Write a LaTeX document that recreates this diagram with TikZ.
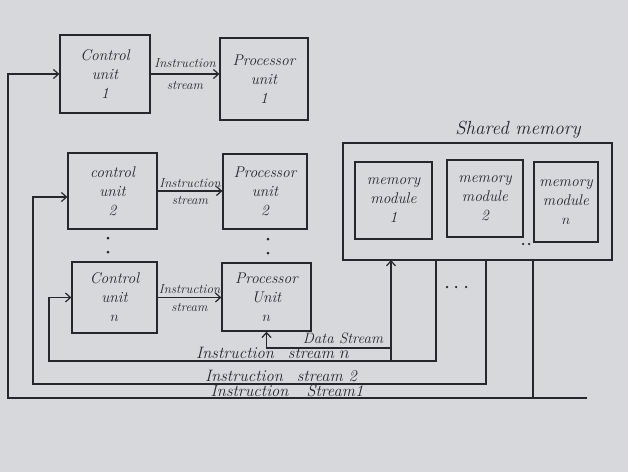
\documentclass[tikz,border=0pt]{standalone}
\usetikzlibrary{arrows.meta}
\definecolor{paper}{RGB}{214,216,220}
\definecolor{ink}{RGB}{38,38,44}
\newcommand\handA{\itshape\fontsize{13}{17}\selectfont}
\newcommand\handC{\itshape\fontsize{15.5}{19}\selectfont}
\newcommand\handB{\itshape\fontsize{16.5}{18}\selectfont}
\begin{document}
\begin{tikzpicture}[x=1pt,y=-1pt,
  rect/.style 2 args={draw=ink, line width=1.3pt, minimum width=#1pt, minimum height=#2pt,
    inner sep=0pt, align=center, text=ink, font=\handC},
  wire/.style={draw=ink, line width=1.2pt},
  flow/.style={wire, -{Straight Barb[length=5pt,width=9pt,line width=1.2pt]}},
  lbl/.style={text=ink, font=\handA, inner sep=1pt},
  big/.style={text=ink, font=\handB, inner sep=0.5pt},
  dot/.style={circle, fill=ink, inner sep=0pt, minimum size=3pt}]
\useasboundingbox (0,0) rectangle (628,472);
\fill[paper] (0,0) rectangle (628,472);

% control and processor units
\node[rect={90}{78}] (cu1) at (105,74) {Control\\unit\\1};
\node[rect={88}{82}] (pu1) at (264,79) {Processor\\unit\\1};
\node[rect={89}{76}] (cu2) at (112.5,191) {control\\unit\\2};
\node[rect={84}{75}] (pu2) at (265,191.5) {Processor\\unit\\2};
\node[rect={85}{71}] (cun) at (114.5,297.5) {Control\\unit\\$n$};
\node[rect={89}{68}] (pun) at (266.5,297) {Processor\\Unit\\$n$};

% instruction streams between units
\draw[flow] (cu1.east) -- (cu1.east -| pu1.west)
  node[lbl, midway, above=5pt] (is1) {Instruction}
  node[lbl, midway, below=6pt] (ss1) {stream};
\draw[flow] (cu2.east) -- (cu2.east -| pu2.west)
  node[lbl, midway, above=2pt] (is2) {Instruction}
  node[lbl, midway, below=4pt] (ss2) {stream};
\draw[flow] (cun.east) -- (cun.east -| pun.west)
  node[lbl, midway, above=2pt] (isn) {Instruction}
  node[lbl, midway, below=4pt] (ssn) {stream};

% vertical dots
\node[dot] (d1) at (108,238) {};
\node[dot] (d2) at (108,252) {};
\node[dot] (d3) at (268,239) {};
\node[dot] (d4) at (268,253) {};

% shared memory
\node[rect={269}{117}] (sm) at (477.5,201.5) {};
\node[text=ink, font=\itshape\fontsize{19}{21}\selectfont, inner sep=1pt, anchor=south] (smlbl) at (518,140) {Shared memory};
\node[rect={77}{77}] (mm1) at (393.5,200.5) {memory\\module\\1};
\node[rect={76}{77}] (mm2) at (485,198.5) {memory\\module\\2};
\node[rect={64}{80}] (mmn) at (566,202) {memory\\module\\$n$};
\node[dot, minimum size=2.5pt] (e1) at (523,244) {};
\node[dot, minimum size=2.5pt] (e2) at (529,244) {};
\node[dot, minimum size=2.5pt] (e3) at (447,287) {};
\node[dot, minimum size=2.5pt] (e4) at (456,287) {};
\node[dot, minimum size=2.5pt] (e5) at (466,287) {};

% bus lines coordinates
\coordinate (s1top) at (533,260);
\coordinate (s1bot) at (533,398);
\coordinate (s1end) at (587,398);
\coordinate (s1left) at (8,398);
\coordinate (s2top) at (486,260);
\coordinate (s2bot) at (486,384);
\coordinate (s2left) at (33,384);
\coordinate (sntop) at (436,260);
\coordinate (snbot) at (436,361);
\coordinate (snleft) at (49,361);
\coordinate (dtop) at (391,260);
\coordinate (dbot) at (391,361);
\coordinate (dmid) at (391,348);

% instruction stream 1
\draw[wire] (s1top) -- (s1bot);
\draw[flow] (s1end) -- (s1left) |- (cu1.west);
% instruction stream 2
\draw[flow] (s2top) -- (s2bot) -- (s2left) |- ([yshift=-6pt]cu2.west);
% instruction stream n
\draw[flow] (sntop) -- (snbot) -- (snleft) |- (cun.west);
% data stream
\draw[flow] (dbot) -- (dtop);
\draw[flow] (dmid) -| (pun.south);

% stream labels
\node[text=ink, font=\itshape\fontsize{15}{17}\selectfont, inner sep=1pt, anchor=base] (dsl) at (343,343) {Data Stream};
\node[big, anchor=base] (isnl) at (273,358) {Instruction\hspace{14pt}stream $n$};
\node[big, anchor=base] (is2l) at (281,381) {Instruction\hspace{14pt}stream 2};
\node[big, anchor=base] (is1l) at (287,396.5) {Instruction\hspace{18pt}Stream1};
\end{tikzpicture}
\end{document}
